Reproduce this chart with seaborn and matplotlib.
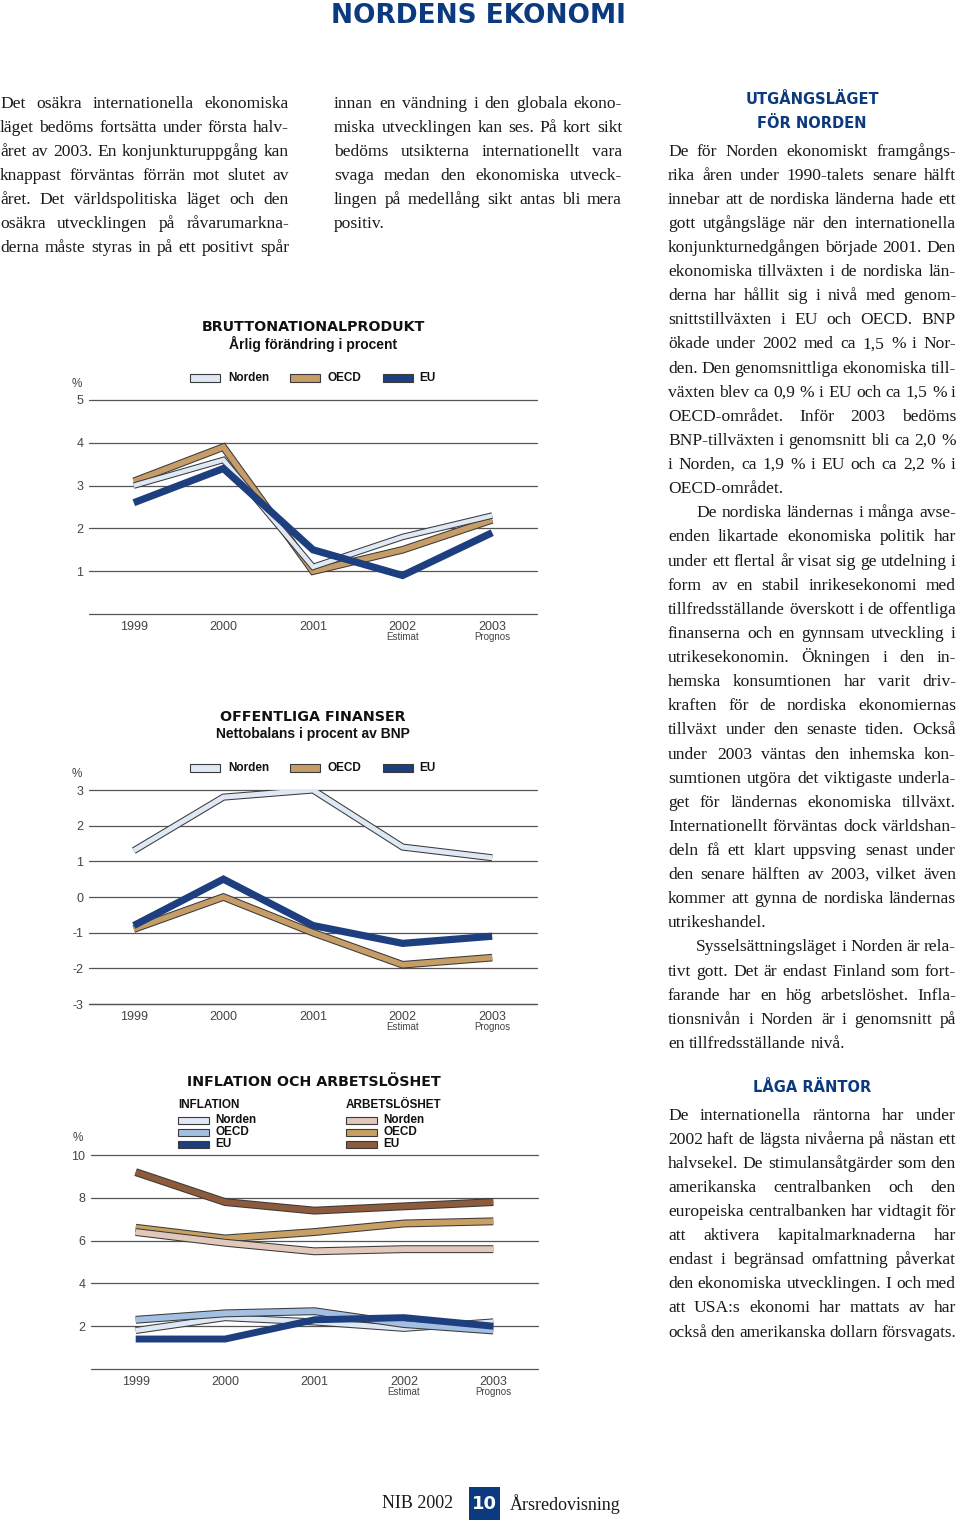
import numpy as np
import pandas as pd
import matplotlib
matplotlib.use("Agg")
import matplotlib.pyplot as plt
import matplotlib.patheffects as pe
from matplotlib.patches import Rectangle
from matplotlib.transforms import Affine2D, blended_transform_factory
import seaborn as sns

# ---------------- data ----------------
years = ["1999", "2000", "2001", "2002", "2003"]
year_notes = ["", "", "", "Estimat", "Prognos"]

bnp_norden = [3.0, 3.6, 1.1, 1.8, 2.3]
bnp_oecd = [3.1, 3.9, 1.0, 1.5, 2.2]
bnp_eu = [2.6, 3.4, 1.5, 0.9, 1.9]

fin_norden = [1.3, 2.8, 3.0, 1.4, 1.1]
fin_oecd = [-0.9, 0.0, -1.0, -1.9, -1.7]
fin_eu = [-0.8, 0.5, -0.8, -1.3, -1.1]

infl_norden = [1.8, 2.4, 2.2, 1.9, 2.2]
infl_oecd = [2.3, 2.6, 2.7, 2.1, 1.8]
infl_eu = [1.4, 1.4, 2.3, 2.4, 2.0]
arb_norden = [6.4, 5.9, 5.5, 5.6, 5.6]
arb_oecd = [6.6, 6.1, 6.4, 6.8, 6.9]
arb_eu = [9.2, 7.8, 7.4, 7.6, 7.8]

bnp_ticks = [1, 2, 3, 4, 5]
fin_ticks = [-3, -2, -1, 0, 1, 2, 3]
infl_ticks = [2, 4, 6, 8, 10]

# ---------------- colours ----------------
C_TITLE = "#0c3a7e"
C_NORDEN = "#dfe8f5"
C_OECD = "#c69d66"
C_EU = "#1d3f7f"
C_INFL_OECD = "#a3c0e2"
C_ARB_NORDEN = "#e2c7bb"
C_ARB_OECD = "#c9a064"
C_ARB_EU = "#8d5a3b"
C_GRID = "#555555"
C_TICK = "#444444"
EDGE = "#3a3a3a"

sns.set_theme(style="white")
plt.rcParams["font.family"] = ["Liberation Sans", "DejaVu Sans"]

W, H = 960, 1528
fig = plt.figure(figsize=(W / 100, H / 100), dpi=100)
fig.patch.set_facecolor("white")
PIX = Affine2D().scale(1 / W, -1 / H).translate(0, 1) + fig.transFigure


def ptext(x, y, s, **kw):
    return fig.text(x, y, s, transform=PIX, **kw)


def make_ax(left, right, top, bottom):
    return fig.add_axes([left / W, 1 - bottom / H, (right - left) / W, (bottom - top) / H])


def draw_series(ax, vals, color, lw, edge=EDGE, ew=1.5, z=3):
    df = pd.DataFrame({"x": np.arange(len(years)), "v": vals})
    sns.lineplot(data=df, x="x", y="v", ax=ax, color=color, lw=lw, zorder=z)
    ln = ax.lines[-1]
    ln.set_solid_joinstyle("miter")
    ln.set_solid_capstyle("butt")
    if edge is not None:
        ln.set_path_effects([pe.Stroke(linewidth=lw + ew, foreground=edge), pe.Normal()])


def style_ax(ax, ylim, ticks, labels_shown):
    ax.set_xlim(-0.5, 4.5)
    ax.set_ylim(*ylim)
    for s in ax.spines.values():
        s.set_visible(False)
    ax.set_facecolor("none")
    ax.set_yticks(ticks)
    ax.set_yticklabels([str(t) if t in labels_shown else "" for t in ticks])
    ax.set_xticks(range(len(years)))
    ax.set_xticklabels(years)
    ax.tick_params(axis="y", length=0, pad=4, labelsize=9, labelcolor=C_TICK)
    ax.tick_params(axis="x", length=0, pad=5, labelsize=9, labelcolor=C_TICK)
    ax.set_xlabel("")
    ax.set_ylabel("")
    for t in ticks:
        ax.axhline(t, color=C_GRID, lw=0.9, zorder=1, clip_on=False)
    ax.axhline(ylim[0], color=C_GRID, lw=0.9, zorder=1, clip_on=False)
    tr = blended_transform_factory(ax.transData, ax.transAxes)
    for i, n in enumerate(year_notes):
        if n:
            ax.text(i, -0.108, n, transform=tr, ha="center", va="center",
                    fontsize=7, color=C_TICK)


def legend_patch(x, yc, w, h, color, edge=EDGE):
    fig.patches.append(Rectangle((x, yc - h / 2), w, h, transform=PIX, facecolor=color,
                                 edgecolor=edge, lw=0.8))


LEG_FONT = dict(fontsize=8.5, fontweight="bold", color="#111111", va="center",
                family=["Liberation Sans"])
TITLE_FONT = dict(fontsize=10.3, fontweight="bold", color="#111111", ha="center", va="center",
                  family=["DejaVu Sans"])
SUB_FONT = dict(fontsize=10, fontweight="bold", color="#111111", ha="center", va="center",
                family=["Liberation Sans"])

# ---------------- chart 1: BNP ----------------
ax1 = make_ax(89, 537, 400, 614)
draw_series(ax1, bnp_oecd, C_OECD, 4.0)
draw_series(ax1, bnp_norden, C_NORDEN, 3.2)
draw_series(ax1, bnp_eu, C_EU, 5.2, edge=None)
style_ax(ax1, (0, 5), bnp_ticks, bnp_ticks)
ptext(77, 384, "%", fontsize=8.5, color=C_TICK, ha="center", va="center")
ptext(313, 327, "BRUTTONATIONALPRODUKT", **TITLE_FONT)
ptext(313, 344, "Årlig förändring i procent", **SUB_FONT)
for x0, tx, col, lab in [(190, 228, C_NORDEN, "Norden"), (290, 328, C_OECD, "OECD"),
                         (383, 419, C_EU, "EU")]:
    legend_patch(x0, 378, 30, 8, col)
    ptext(tx, 378, lab, **LEG_FONT)

# ---------------- chart 2: Offentliga finanser ----------------
ax2 = make_ax(89, 537, 790, 1004)
draw_series(ax2, fin_norden, C_NORDEN, 3.6)
draw_series(ax2, fin_oecd, C_OECD, 4.0)
draw_series(ax2, fin_eu, C_EU, 5.2, edge=None)
style_ax(ax2, (-3, 3), fin_ticks, fin_ticks)
ptext(77, 774, "%", fontsize=8.5, color=C_TICK, ha="center", va="center")
ptext(313, 717, "OFFENTLIGA FINANSER", **TITLE_FONT)
ptext(313, 734, "Nettobalans i procent av BNP", **SUB_FONT)
for x0, tx, col, lab in [(190, 228, C_NORDEN, "Norden"), (290, 328, C_OECD, "OECD"),
                         (383, 419, C_EU, "EU")]:
    legend_patch(x0, 768, 30, 8, col)
    ptext(tx, 768, lab, **LEG_FONT)

# ---------------- chart 3: Inflation och arbetslöshet ----------------
ax3 = make_ax(91, 538, 1155, 1369)
draw_series(ax3, arb_eu, C_ARB_EU, 4.2)
draw_series(ax3, arb_oecd, C_ARB_OECD, 4.2)
draw_series(ax3, arb_norden, C_ARB_NORDEN, 4.2)
draw_series(ax3, infl_norden, C_NORDEN, 3.6)
draw_series(ax3, infl_oecd, C_INFL_OECD, 4.2)
draw_series(ax3, infl_eu, C_EU, 5.0, edge=None)
style_ax(ax3, (0, 10), infl_ticks, infl_ticks)
ptext(78, 1138, "%", fontsize=8.5, color=C_TICK, ha="center", va="center")
ptext(314, 1082, "INFLATION OCH ARBETSLÖSHET", **TITLE_FONT)
ptext(178, 1105, "INFLATION", **LEG_FONT)
ptext(346, 1105, "ARBETSLÖSHET", **LEG_FONT)
for yc, col, lab in [(1120, C_NORDEN, "Norden"), (1132, C_INFL_OECD, "OECD"), (1144, C_EU, "EU")]:
    legend_patch(178, yc, 31, 7, col)
    ptext(215, yc, lab, **LEG_FONT)
for yc, col, lab in [(1120, C_ARB_NORDEN, "Norden"), (1132, C_ARB_OECD, "OECD"), (1144, C_ARB_EU, "EU")]:
    legend_patch(346, yc, 31, 7, col)
    ptext(383, yc, lab, **LEG_FONT)

# ---------------- page text ----------------
ptext(478, 16, "NORDENS EKONOMI", fontsize=19, fontweight="heavy", color=C_TITLE,
      ha="center", va="center", family=["DejaVu Sans"])

HEAD = dict(fontsize=10.5, fontweight="bold", color=C_TITLE, ha="center", va="center",
            family=["DejaVu Sans"])
ptext(812, 100, "UTGÅNGSLÄGET", **HEAD)
ptext(812, 124, "FÖR NORDEN", **HEAD)
ptext(812, 1088, "LÅGA RÄNTOR", **HEAD)

renderer = fig.canvas.get_renderer()
BODY_FAM = ["Liberation Serif"]
BODY_SIZE = 12.6
_cache = {}


def tw(s, size):
    key = (s, size)
    if key not in _cache:
        t = fig.text(0, 0, s, fontsize=size, family=BODY_FAM)
        _cache[key] = t.get_window_extent(renderer).width
        t.remove()
    return _cache[key]


def set_line(text, x0, x1, baseline, justify, indent=0):
    words = text.split(" ")
    size = BODY_SIZE
    sp = tw("a a", size) - tw("aa", size)
    widths = [tw(w, size) for w in words]
    avail = x1 - x0 - indent
    nat = sum(widths) + sp * 0.8 * (len(words) - 1)
    while nat > avail and size > 9:
        size = round(size - 0.1, 2)
        sp = tw("a a", size) - tw("aa", size)
        widths = [tw(w, size) for w in words]
        nat = sum(widths) + sp * 0.8 * (len(words) - 1)
    if justify and len(words) > 1:
        gap = (avail - sum(widths)) / (len(words) - 1)
    else:
        gap = sp
    x = x0 + indent
    for w, wd in zip(words, widths):
        ptext(x, baseline, w, fontsize=size, family=BODY_FAM, color="#1a1a1a",
              ha="left", va="baseline")
        x += wd + gap


def set_block(paras, x0, x1, first_baseline, lh, last_justified=False, indent_first=None):
    y = first_baseline
    for pi, lines in enumerate(paras):
        for li, line in enumerate(lines):
            last = li == len(lines) - 1
            ind = 28 if (indent_first and pi in indent_first and li == 0) else 0
            set_line(line, x0, x1, y, justify=(not last) or (last_justified and pi == len(paras) - 1),
                     indent=ind)
            y += lh


col1 = [[
    "Det osäkra internationella ekonomiska",
    "läget bedöms fortsätta under första halv-",
    "året av 2003. En konjunkturuppgång kan",
    "knappast förväntas förrän mot slutet av",
    "året. Det världspolitiska läget och den",
    "osäkra utvecklingen på råvarumarkna-",
    "derna måste styras in på ett positivt spår",
]]
col2 = [[
    "innan en vändning i den globala ekono-",
    "miska utvecklingen kan ses. På kort sikt",
    "bedöms utsikterna internationellt vara",
    "svaga medan den ekonomiska utveck-",
    "lingen på medellång sikt antas bli mera",
    "positiv.",
]]
col3 = [
    [
        "De för Norden ekonomiskt framgångs-",
        "rika åren under 1990-talets senare hälft",
        "innebar att de nordiska länderna hade ett",
        "gott utgångsläge när den internationella",
        "konjunkturnedgången började 2001. Den",
        "ekonomiska tillväxten i de nordiska län-",
        "derna har hållit sig i nivå med genom-",
        "snittstillväxten i EU och OECD. BNP",
        "ökade under 2002 med ca 1,5 % i Nor-",
        "den. Den genomsnittliga ekonomiska till-",
        "växten blev ca 0,9 % i EU och ca 1,5 % i",
        "OECD-området. Inför 2003 bedöms",
        "BNP-tillväxten i genomsnitt bli ca 2,0 %",
        "i Norden, ca 1,9 % i EU och ca 2,2 % i",
        "OECD-området.",
    ],
    [
        "De nordiska ländernas i många avse-",
        "enden likartade ekonomiska politik har",
        "under ett flertal år visat sig ge utdelning i",
        "form av en stabil inrikesekonomi med",
        "tillfredsställande överskott i de offentliga",
        "finanserna och en gynnsam utveckling i",
        "utrikesekonomin. Ökningen i den in-",
        "hemska konsumtionen har varit driv-",
        "kraften för de nordiska ekonomiernas",
        "tillväxt under den senaste tiden. Också",
        "under 2003 väntas den inhemska kon-",
        "sumtionen utgöra det viktigaste underla-",
        "get för ländernas ekonomiska tillväxt.",
        "Internationellt förväntas dock världshan-",
        "deln få ett klart uppsving senast under",
        "den senare hälften av 2003, vilket även",
        "kommer att gynna de nordiska ländernas",
        "utrikeshandel.",
    ],
    [
        "Sysselsättningsläget i Norden är rela-",
        "tivt gott. Det är endast Finland som fort-",
        "farande har en hög arbetslöshet. Infla-",
        "tionsnivån i Norden är i genomsnitt på",
        "en tillfredsställande nivå.",
    ],
]
col3b = [[
    "De internationella räntorna har under",
    "2002 haft de lägsta nivåerna på nästan ett",
    "halvsekel. De stimulansåtgärder som den",
    "amerikanska centralbanken och den",
    "europeiska centralbanken har vidtagit för",
    "att aktivera kapitalmarknaderna har",
    "endast i begränsad omfattning påverkat",
    "den ekonomiska utvecklingen. I och med",
    "att USA:s ekonomi har mattats av har",
    "också den amerikanska dollarn försvagats.",
]]

LH = 24.12
set_block(col1, 0, 289, 107.5, LH, last_justified=True)
set_block(col2, 334, 622, 107.5, LH)
set_block(col3, 668, 956, 155.5, LH, indent_first={1, 2})
set_block(col3b, 668, 956, 1119.5, LH, last_justified=True)

# ---------------- footer ----------------
ptext(418, 1504, "NIB 2002", fontsize=13, family=BODY_FAM, color="#1a1a1a",
      ha="center", va="center")
fig.patches.append(Rectangle((469, 1487), 31, 33, transform=PIX, facecolor=C_TITLE,
                             edgecolor="none"))
ptext(484.5, 1504, "10", fontsize=13, fontweight="bold", color="white", ha="center",
      va="center", family=["DejaVu Sans"])
ptext(510, 1504, "Årsredovisning", fontsize=13, family=BODY_FAM, color="#1a1a1a",
      ha="left", va="center")

fig.savefig("out.png", dpi=100, facecolor="white")
